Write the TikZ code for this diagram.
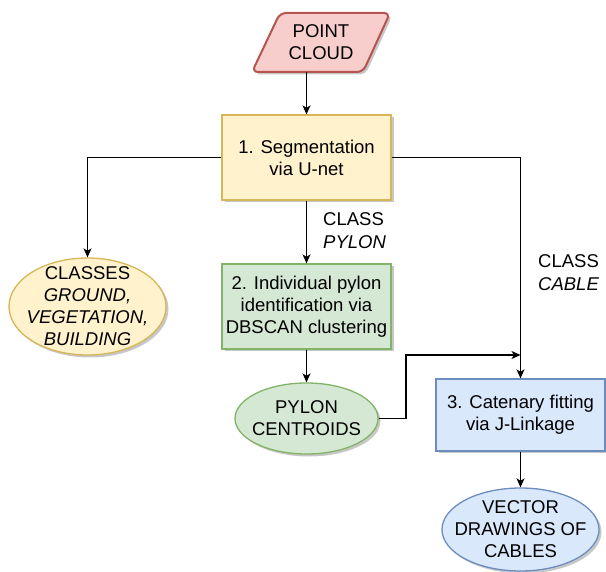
\documentclass[tikz,border=0pt]{standalone}
\usepackage{fontspec}
\setmainfont{Liberation Sans}
\usetikzlibrary{shapes.geometric,arrows.meta,shadows}
\definecolor{redfill}{HTML}{F8CECC}\definecolor{redline}{HTML}{B85450}
\definecolor{yelfill}{HTML}{FFF2CC}\definecolor{yelline}{HTML}{D6B656}
\definecolor{grnfill}{HTML}{D5E8D4}\definecolor{grnline}{HTML}{82B366}
\definecolor{blufill}{HTML}{DAE8FC}\definecolor{bluline}{HTML}{6C8EBF}
\tikzset{
  txt/.style={font=\fontsize{18.5}{22}\selectfont, align=center, inner sep=0pt},
  shd/.style={drop shadow={shadow xshift=2.5pt, shadow yshift=-2.5pt, opacity=0.22, fill=black}},
  procbox/.style={txt, rectangle, draw, line width=1.3pt, minimum width=169pt, shd},
  oval/.style={ellipse, draw, line width=1.3pt, inner sep=0pt, shd},
  conn/.style={draw, line width=1.3pt, -{Stealth[length=9pt,width=8pt,inset=2.5pt]}},
  lbl/.style={font=\fontsize{18.5}{23}\selectfont, align=left, inner sep=0pt, anchor=west}
}
\begin{document}
\begin{tikzpicture}[x=1pt,y=-1pt]
\useasboundingbox (0,0) rectangle (606,572);
% point cloud parallelogram
\draw[fill=redfill, draw=redline, line width=2pt, rounded corners=6pt, shd]
  (280,13) -- (390,13) -- (363,72) -- (252,72) -- cycle;
\node[txt, minimum height=59pt, minimum width=80pt] (pc) at (321,42.5) {POINT\\CLOUD};
% nodes
\node[procbox, fill=yelfill, draw=yelline, minimum height=85pt] (seg) at (306.5,157.5) {1. Segmentation\\via U-net};
\node[procbox, fill=grnfill, draw=grnline, minimum height=85pt] (dbs) at (306.5,306.5) {2. Individual pylon\\identification via\\DBSCAN clustering};
\node[procbox, fill=blufill, draw=bluline, minimum height=72pt] (cat) at (520.5,415) {3. Catenary fitting\\via J-Linkage};
\node[oval, fill=yelfill, draw=yelline, minimum width=157pt, minimum height=97pt] (cls) at (87.5,306.5) {};
\node[txt] (clsT) at (cls.center) {CLASSES\\\textit{GROUND,}\\\textit{VEGETATION,}\\\textit{BUILDING}};
\node[oval, fill=grnfill, draw=grnline, minimum width=143pt, minimum height=71pt] (cen) at (306.5,418.5) {};
\node[txt] (cenT) at (cen.center) {PYLON\\CENTROIDS};
\node[oval, fill=blufill, draw=bluline, minimum width=157pt, minimum height=83pt] (vec) at (520.5,529.5) {};
\node[txt] (vecT) at (vec.center) {VECTOR\\DRAWINGS OF\\CABLES};
% labels
\node[lbl] (lp) at (323,231) {CLASS\\\textit{PYLON}};
\node[lbl] (lc) at (538,273) {CLASS\\\textit{CABLE}};
% connectors
\coordinate (pcb) at (306.5,72);
\path[conn] (pcb) -- (seg.north);
\path[conn] (seg.west) -| (cls.north);
\path[conn] (seg.east) -| (cat.north);
\path[conn] (seg.south) -- (dbs.north);
\path[conn] (dbs.south) -- (cen.north);
\coordinate (bend) at (406,355);
\coordinate (mid) at (520.5,355);
\path[conn] (cen.east) -| (bend) -- (mid);
\path[conn] (cat.south) -- (vec.north);
\end{tikzpicture}
\end{document}
